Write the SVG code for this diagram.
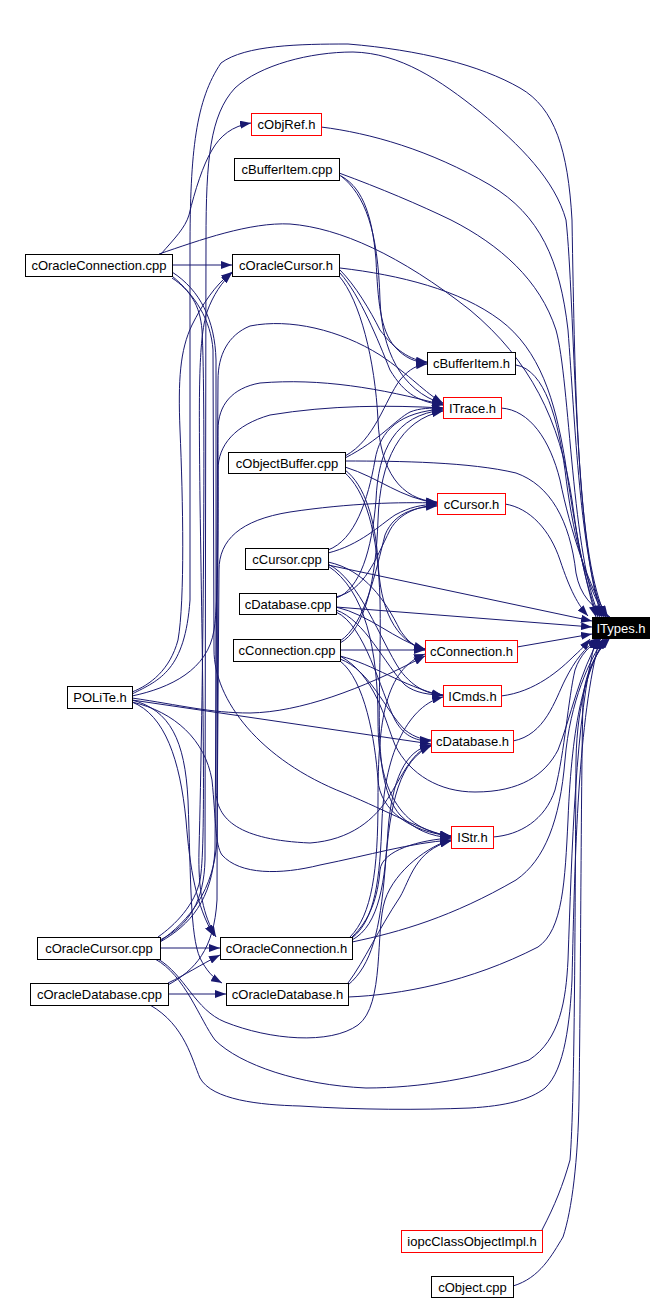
<svg xmlns="http://www.w3.org/2000/svg" width="671" height="1300" viewBox="0 0 671 1300">
<style>
.n rect{fill:#fff;stroke:#000;stroke-width:1}
.n.r rect{stroke:#f00}
.n text{font-family:"Liberation Sans",Arial,sans-serif;font-size:13px;fill:#000;text-anchor:middle}
.n.k rect{fill:#000;stroke:#000}
.n.k text{fill:#fff}
.e path{fill:none;stroke:#191970;stroke-width:1;marker-end:url(#a)}
</style>
<defs>
<marker id="a" markerWidth="12" markerHeight="8" refX="11" refY="4" orient="auto" markerUnits="userSpaceOnUse"><path d="M0,0 L11,4 L0,8 z" fill="#191970"/></marker>
</defs>
<rect width="671" height="1300" fill="#fff"/>
<g class="e" id="edges">
<!-- into ITypes.h from top -->
<path d="M132,694 C160,680 185,670 190,600 L190,250 C190,150 196,100 221,63 C245,45 300,44 348,44 C420,50 480,65 520,88 C555,108 568,150 572,220 C575,400 578,560 606,617"/>
<path d="M160,940 C190,925 204,900 205,860 L206,240 C206,160 210,115 235,88 C260,65 310,52 353,52 C400,53 440,80 480,112 C520,145 555,180 566,220 C575,300 574,540 602,617"/>
<path d="M159,254 C200,240 250,222 290,224 C340,228 400,255 470,310 C530,360 560,420 572,500 C580,560 588,590 598,617"/>
<path d="M321,127 C370,133 430,150 490,185 C540,215 560,260 568,330 C575,420 580,560 604,617"/>
<path d="M339,173 C380,188 420,205 451,220 C500,245 540,280 556,330 C570,380 572,560 600,617"/>
<path d="M340,268 C400,275 460,290 500,320 C540,350 555,400 565,460 C575,530 585,580 596,617"/>
<path d="M516,365 C545,370 558,420 565,470 C572,530 585,585 606,617"/>
<path d="M501,408 C530,410 550,440 560,480 C570,530 590,590 608,617"/>
<path d="M345,461 C400,461 470,462 516,473 C550,485 570,520 576,573 C580,595 592,608 610,617"/>
<path d="M505,504 C530,508 550,530 560,560 C570,590 578,605 588,616"/>
<!-- into ITypes.h from left -->
<path d="M328,565 L592,621"/>
<path d="M336,607 L592,627"/>
<path d="M517,647 L592,634"/>
<!-- into ITypes.h from bottom -->
<path d="M501,696 C535,692 560,670 575,655 C583,648 586,644 590,639"/>
<path d="M513,741 C545,735 555,700 565,680 C575,660 585,648 598,638"/>
<path d="M493,837 C520,835 545,820 555,790 C565,750 568,700 575,670 C580,655 590,645 602,638"/>
<path d="M352,942 C400,932 452,917 516,880 C545,860 560,820 565,760 C570,700 590,660 604,638"/>
<path d="M348,997 C400,995 470,982 538,947 C563,930 565,880 568,820 C572,720 585,670 606,638"/>
<path d="M542,1230 C555,1205 563,1185 570,1160 C575,1100 575,900 576,760 C577,700 592,655 608,638"/>
<path d="M513,1286 C540,1278 552,1255 563,1237 C572,1210 578,1160 579,1100 C581,950 581,780 583,700 C585,670 598,650 610,638"/>
<path d="M340,656 C375,675 385,720 395,745 C410,775 440,792 475,792 C520,792 545,775 558,750 C570,720 580,670 600,638"/>
<path d="M155,959 C185,975 200,1020 215,1040 C240,1065 300,1085 366,1088 C420,1088 480,1078 529,1060 C560,1040 566,1000 568,960 C572,850 575,720 596,638"/>
<path d="M150,1005 C185,1025 192,1060 200,1078 C212,1100 260,1105 300,1106 C360,1110 420,1110 470,1108 C505,1106 530,1100 545,1088 C565,1070 570,1020 572,980 C575,850 578,720 600,638"/>
<!-- rank 0 to rank 1 -->
<path d="M172,265 L232,265"/>
<path d="M161,254 C175,238 185,228 189,215 C195,190 203,165 212,150 C220,136 232,126 251,123"/>
<path d="M132,692 C150,685 170,670 178,640 C185,600 183,500 180,430 C178,380 180,350 192,325 C202,305 215,285 232,272"/>
<path d="M158,937 C175,925 195,905 200,880 C206,850 203,700 200,500 C199,400 198,340 207,312 C213,295 222,282 232,273"/>
<path d="M160,948 L220,948"/>
<path d="M168,994 L226,994"/>
<path d="M168,983 C185,975 200,965 220,955"/>
<path d="M172,278 C190,290 200,305 202,330 C206,400 203,700 199,850 C198,890 203,915 216,937"/>
<path d="M132,700 C170,710 185,740 188,800 C191,880 190,935 200,958 C206,970 213,978 222,983"/>
<path d="M132,702 C165,715 180,760 186,820 C190,870 196,905 214,936"/>
<!-- rank 0 to rank 2 -->
<path d="M132,700 L431,744"/>
<path d="M132,698 C180,705 210,713 250,713 C300,712 360,690 425,656"/>
<path d="M132,696 C170,688 208,670 214,630 C219,600 218,500 218,430 C218,405 232,388 260,383 C320,378 380,388 443,405"/>
<path d="M160,942 C190,925 212,900 215,850 L218,380 C218,355 228,335 250,326 C290,318 340,330 380,355 C410,375 425,393 443,403"/>
<path d="M168,985 C195,970 214,950 217,900 L218,470 C218,445 235,425 270,415 C330,405 390,405 443,408"/>
<path d="M159,942 C190,920 214,890 217,840 L219,570 C219,540 240,520 290,512 C350,503 400,502 437,503"/>
<path d="M172,276 C195,295 211,320 213,350 L214,650 C214,700 260,760 344,793 C390,812 420,830 451,837"/>
<path d="M172,272 C200,290 215,320 216,360 L216,790 C216,820 240,840 310,843 C350,840 375,820 390,795 C405,770 413,752 431,745"/>
<path d="M132,702 C175,712 205,740 212,780 C216,820 215,845 222,855 C240,875 280,875 320,865 C370,855 410,843 451,840"/>
<!-- upper rank 1 to rank 2 -->
<path d="M339,175 C360,185 372,210 376,260 C378,300 380,330 395,347 C405,358 415,362 427,363"/>
<path d="M341,176 C365,195 378,230 380,300 C382,350 400,390 443,404"/>
<path d="M340,270 C355,285 370,310 380,330 C395,350 410,360 427,362"/>
<path d="M340,273 C360,295 378,340 390,370 C405,395 420,402 443,405"/>
<path d="M339,276 C360,300 375,360 378,420 C380,470 400,500 437,502"/>
<path d="M345,456 C375,440 385,400 400,380 C410,368 418,365 427,364"/>
<path d="M345,458 C380,440 395,420 410,412 C420,408 430,408 443,408"/>
<path d="M345,467 C380,478 400,498 437,503"/>
<path d="M345,470 C365,485 375,520 378,560 C380,610 395,640 425,650"/>
<path d="M344,472 C365,490 378,530 380,600 C382,700 370,780 400,815 C415,830 430,836 451,838"/>
<path d="M328,553 C360,545 380,525 395,515 C410,507 420,505 437,504"/>
<path d="M328,550 C355,540 368,500 375,460 C380,430 400,412 443,409"/>
<path d="M328,562 C365,570 385,600 400,630 C410,645 418,648 425,649"/>
<path d="M328,564 C360,580 380,640 400,670 C415,690 430,694 443,695"/>
<path d="M328,566 C365,590 378,650 378,720 C378,790 400,830 451,836"/>
<path d="M336,598 C360,590 372,550 376,500 C378,450 395,415 443,410"/>
<path d="M336,597 C365,590 375,560 390,530 C400,512 420,506 437,505"/>
<path d="M336,607 C370,615 395,640 425,649"/>
<path d="M336,610 C365,620 385,665 405,685 C415,693 430,695 443,695"/>
<path d="M336,612 C365,625 380,690 395,720 C405,738 418,741 431,741"/>
<path d="M340,650 L425,650"/>
<path d="M340,643 C365,630 376,580 378,520 C380,460 400,420 443,411"/>
<path d="M340,641 C365,625 376,570 385,535 C395,510 420,507 437,506"/>
<path d="M340,656 C375,665 400,685 443,696"/>
<path d="M340,659 C370,670 385,710 405,730 C415,738 425,740 431,740"/>
<path d="M340,661 C365,680 375,740 378,780 C380,810 410,832 451,836"/>
<!-- lower rank 1 to rank 2 -->
<path d="M352,937 C370,920 378,897 380,870 C382,850 420,840 451,838"/>
<path d="M350,937 C372,915 378,870 378,800 C378,720 385,670 425,654"/>
<path d="M352,938 C375,920 380,880 382,820 C385,750 410,705 443,697"/>
<path d="M352,940 C380,925 385,880 388,830 C392,780 405,750 431,745"/>
<path d="M348,983 C365,960 378,930 400,897 C410,880 415,850 451,841"/>
<path d="M348,985 C372,965 380,930 385,870 C390,800 400,760 431,746"/>
<path d="M158,959 C185,975 195,1010 225,1022 C270,1040 330,1045 358,1025 C385,1005 375,930 385,900 C395,870 430,845 451,840"/>
</g>
<g class="n r" id="cObjRef_h"><rect x="251.5" y="113.5" width="70" height="22"/><text x="286.5" y="129">cObjRef.h</text></g>
<g class="n" id="cBufferItem_cpp"><rect x="234.5" y="158.5" width="105" height="22"/><text x="287" y="174">cBufferItem.cpp</text></g>
<g class="n" id="cOracleConnection_cpp"><rect x="25.5" y="254.5" width="147" height="22"/><text x="99" y="270">cOracleConnection.cpp</text></g>
<g class="n" id="cOracleCursor_h"><rect x="232.5" y="254.5" width="107" height="22"/><text x="286" y="270">cOracleCursor.h</text></g>
<g class="n" id="cBufferItem_h"><rect x="427.5" y="352.5" width="88" height="22"/><text x="471.5" y="368">cBufferItem.h</text></g>
<g class="n r" id="ITrace_h"><rect x="443.5" y="397.5" width="58" height="21"/><text x="472.5" y="412.5">ITrace.h</text></g>
<g class="n" id="cObjectBuffer_cpp"><rect x="228.5" y="452.5" width="117" height="21"/><text x="287" y="467.5">cObjectBuffer.cpp</text></g>
<g class="n r" id="cCursor_h"><rect x="437.5" y="493.5" width="68" height="21"/><text x="471.5" y="508.5">cCursor.h</text></g>
<g class="n" id="cCursor_cpp"><rect x="245.5" y="548.5" width="83" height="21"/><text x="287" y="563.5">cCursor.cpp</text></g>
<g class="n" id="cDatabase_cpp"><rect x="239.5" y="593.5" width="97" height="21"/><text x="288" y="608.5">cDatabase.cpp</text></g>
<g class="n k" id="ITypes_h"><rect x="592.5" y="617.5" width="57" height="21"/><text x="621" y="632.5">ITypes.h</text></g>
<g class="n" id="cConnection_cpp"><rect x="233.5" y="639.5" width="107" height="22"/><text x="287" y="655">cConnection.cpp</text></g>
<g class="n r" id="cConnection_h"><rect x="425.5" y="640.5" width="92" height="22"/><text x="471.5" y="656">cConnection.h</text></g>
<g class="n" id="POLiTe_h"><rect x="67.5" y="686.5" width="65" height="22"/><text x="100" y="702">POLiTe.h</text></g>
<g class="n r" id="ICmds_h"><rect x="443.5" y="685.5" width="58" height="21"/><text x="472.5" y="700.5">ICmds.h</text></g>
<g class="n r" id="cDatabase_h"><rect x="431.5" y="730.5" width="82" height="22"/><text x="472.5" y="746">cDatabase.h</text></g>
<g class="n r" id="IStr_h"><rect x="451.5" y="826.5" width="42" height="22"/><text x="472.5" y="842">IStr.h</text></g>
<g class="n" id="cOracleCursor_cpp"><rect x="37.5" y="937.5" width="123" height="22"/><text x="99" y="953">cOracleCursor.cpp</text></g>
<g class="n" id="cOracleConnection_h"><rect x="220.5" y="937.5" width="132" height="22"/><text x="286.5" y="953">cOracleConnection.h</text></g>
<g class="n" id="cOracleDatabase_cpp"><rect x="30.5" y="983.5" width="138" height="22"/><text x="99.5" y="999">cOracleDatabase.cpp</text></g>
<g class="n" id="cOracleDatabase_h"><rect x="226.5" y="983.5" width="122" height="22"/><text x="287.5" y="999">cOracleDatabase.h</text></g>
<g class="n r" id="iopcClassObjectImpl_h"><rect x="401.5" y="1230.5" width="141" height="22"/><text x="472" y="1246">iopcClassObjectImpl.h</text></g>
<g class="n" id="cObject_cpp"><rect x="431.5" y="1276.5" width="82" height="21"/><text x="472.5" y="1291.5">cObject.cpp</text></g>
</svg>
